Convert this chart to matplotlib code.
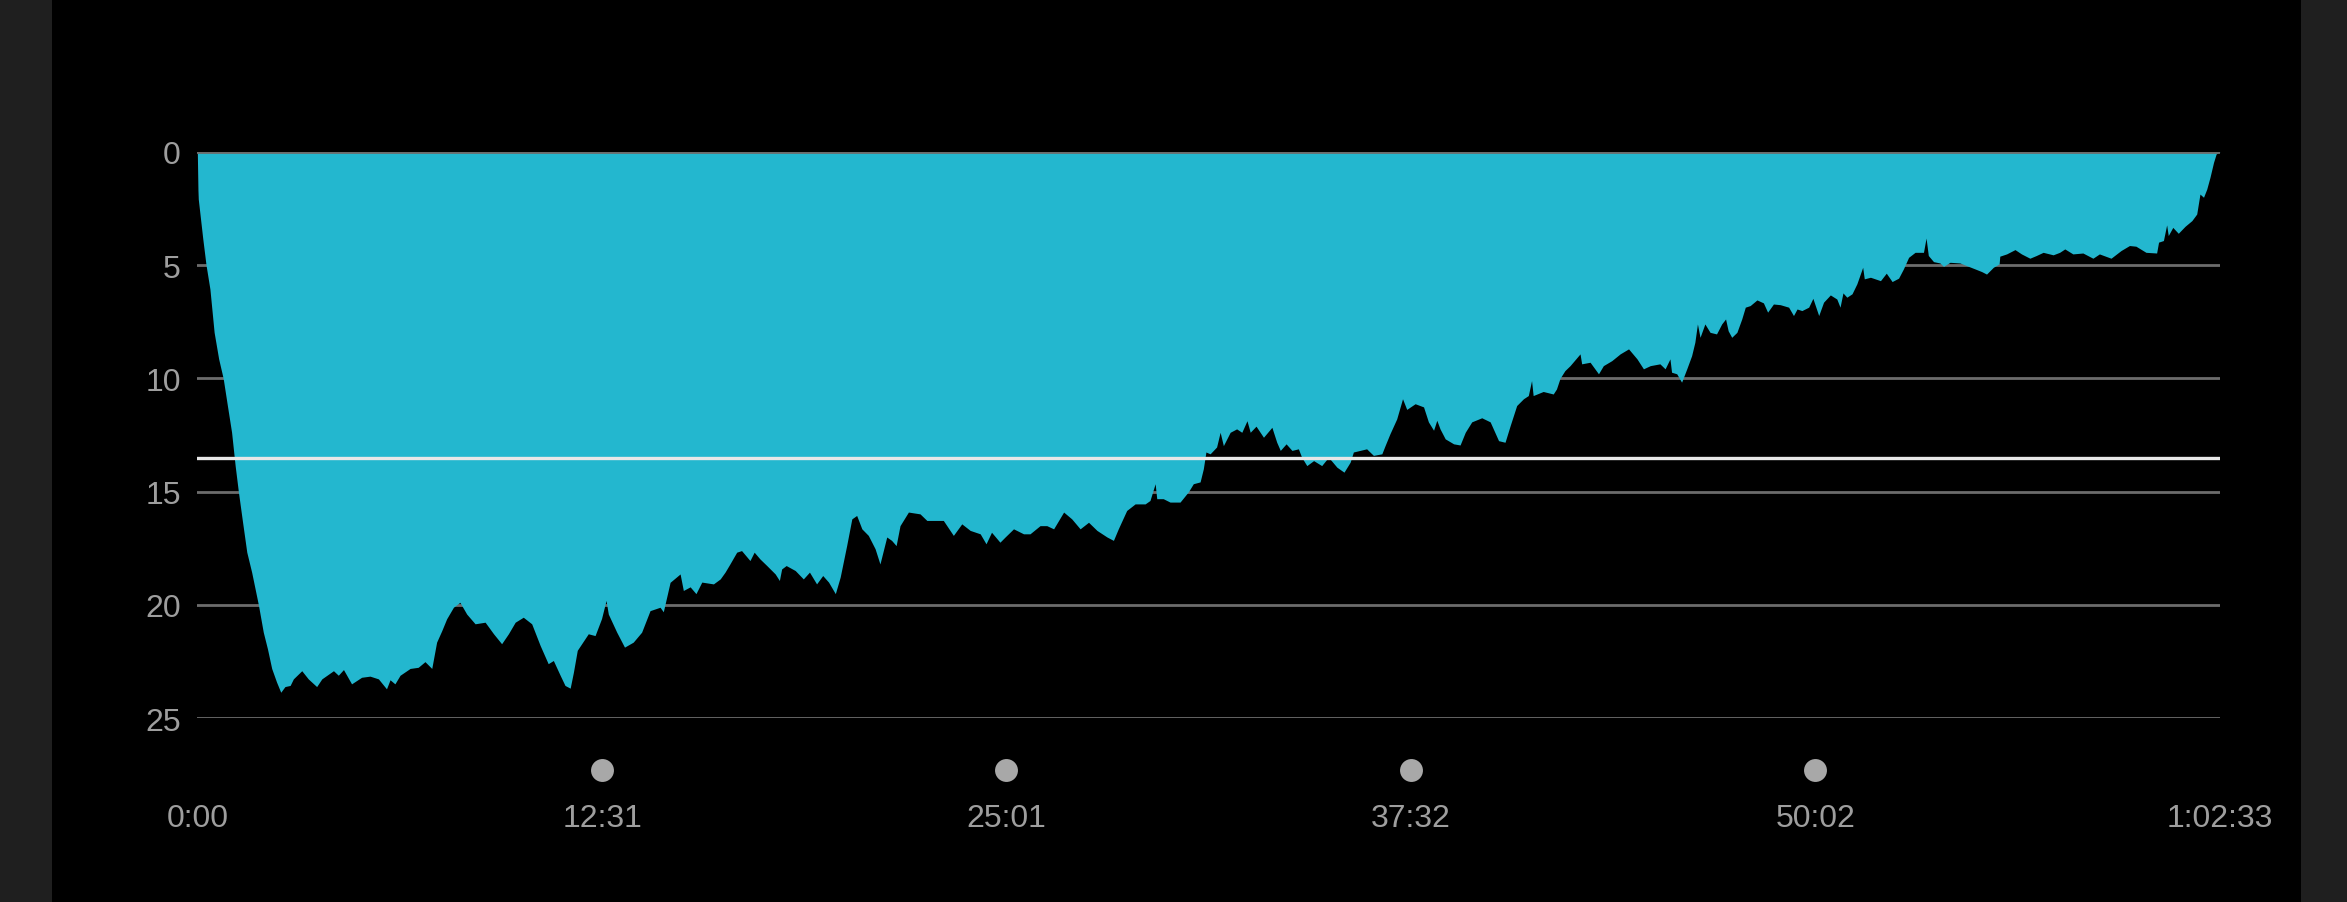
import matplotlib
matplotlib.use("Agg")
import matplotlib.pyplot as plt
from matplotlib.patches import Rectangle

# dive profile, time in minutes, depth in metres
time_min = [
    0.00, 0.02, 0.03, 0.17, 0.27, 0.39, 0.52, 0.66, 0.80, 0.93, 1.06, 1.17, 1.27, 1.40, 1.53, 1.68,
    1.89, 2.04, 2.17, 2.30, 2.45, 2.58, 2.71, 2.87, 2.97, 3.23, 3.43, 3.69, 3.85, 4.21, 4.36, 4.52,
    4.77, 5.08, 5.34, 5.60, 5.85, 5.96, 6.11, 6.27, 6.58, 6.83, 7.04, 7.25, 7.40, 7.56, 7.71, 7.92,
    8.12, 8.33, 8.59, 8.90, 9.16, 9.41, 9.62, 9.83, 10.08, 10.34, 10.60, 10.85, 11.01, 11.22, 11.37,
    11.53, 11.63, 11.75, 12.09, 12.30, 12.50, 12.64, 12.71, 12.97, 13.21, 13.48, 13.74, 14.00, 14.31,
    14.41, 14.62, 14.93,
    15.03, 15.24, 15.42, 15.60, 15.96, 16.17, 16.32, 16.47, 16.68, 16.83, 17.09, 17.22, 17.40, 17.61,
    17.87, 18.00, 18.07, 18.21, 18.49, 18.74, 18.93, 19.15, 19.34, 19.52, 19.73, 19.88, 20.08, 20.24,
    20.39, 20.55, 20.75, 20.96, 21.11, 21.32, 21.47, 21.61, 21.73, 21.99, 22.35, 22.56, 23.07, 23.38,
    23.64, 23.90, 24.21, 24.39, 24.56, 24.82, 24.98, 25.24, 25.55, 25.75, 26.06, 26.27, 26.48, 26.79,
    27.04, 27.30, 27.56, 27.82, 28.13, 28.33, 28.48, 28.74, 29.00, 29.31, 29.46, 29.62, 29.67, 29.87,
    30.08, 30.39, 30.65, 30.80, 31.01, 31.11, 31.19, 31.32, 31.52, 31.63, 31.73, 31.94, 32.14, 32.30,
    32.46, 32.56, 32.74, 32.97, 33.23, 33.38, 33.49, 33.67, 33.85, 34.05, 34.15, 34.31, 34.52, 34.77,
    34.98, 35.24, 35.46, 35.65, 35.75, 36.16, 36.37, 36.63, 36.73, 36.88, 37.09, 37.27, 37.40, 37.66,
    37.92, 38.07, 38.23, 38.33, 38.43, 38.59, 38.85, 39.05, 39.21, 39.41, 39.72, 39.98, 40.24, 40.44,
    40.60, 40.80, 41.01, 41.16, 41.26, 41.31, 41.62, 41.93, 42.03, 42.14, 42.29, 42.45, 42.76, 42.81,
    43.07, 43.33, 43.48, 43.74, 44.00, 44.26, 44.52, 44.72, 44.93,
    45.23, 45.39, 45.54, 45.59, 45.75, 45.90, 46.06, 46.21, 46.31, 46.39, 46.47, 46.62, 46.78, 46.98,
    47.14, 47.26, 47.34, 47.45, 47.61, 47.76, 47.87, 48.02, 48.23, 48.43, 48.56, 48.74, 48.95, 49.21,
    49.36, 49.47, 49.62, 49.83, 49.96, 50.14, 50.29, 50.50, 50.70, 50.80, 50.89, 51.01, 51.17, 51.32,
    51.50, 51.55, 51.74, 52.05, 52.23, 52.41, 52.61, 52.76, 52.92, 53.12, 53.38, 53.46, 53.53, 53.69,
    53.89, 54.00, 54.20, 54.51, 54.72, 54.97, 55.18, 55.33, 55.54, 55.72, 55.74, 55.95, 56.21, 56.41,
    56.67, 56.87, 57.08, 57.39, 57.59, 57.75, 58.00, 58.31, 58.62, 58.82, 59.18, 59.49, 59.75, 59.95,
    60.26,
    60.59, 60.65, 60.80, 60.90, 60.95, 61.09, 61.26, 61.47, 61.68, 61.83, 61.93, 62.04, 62.14, 62.24,
    62.35, 62.43, 62.55,
]
depth_m = [
    0.00, 1.70, 2.09, 3.85, 5.00, 6.06, 7.97, 9.14, 10.00, 11.20, 12.38, 13.85, 15.00, 16.35, 17.67, 18.55,
    20.00, 21.20, 21.94, 22.80, 23.40, 23.85, 23.60, 23.55, 23.26, 22.90, 23.26, 23.60, 23.26, 22.90, 23.10, 22.85,
    23.48, 23.19, 23.14, 23.26, 23.70, 23.30, 23.48, 23.10, 22.80, 22.75, 22.50, 22.80, 21.64, 21.13, 20.61, 20.10,
    19.88, 20.40, 20.83, 20.76, 21.27, 21.71, 21.27, 20.76, 20.54, 20.83, 21.78, 22.59, 22.45, 23.10, 23.55,
    23.67, 22.97, 22.00, 21.27, 21.35, 20.60, 19.80, 20.40, 21.20, 21.86, 21.64, 21.20, 20.25, 20.10,
    20.30, 19.00, 18.63,
    19.36, 19.20, 19.50, 18.99, 19.07, 18.85, 18.55, 18.19, 17.67, 17.60, 18.04, 17.67, 17.97, 18.26,
    18.63, 18.92, 18.41, 18.26, 18.48, 18.85, 18.55, 19.07, 18.70, 18.99, 19.50, 18.77, 17.38, 16.20,
    16.05, 16.64, 16.93, 17.52, 18.19, 17.00, 17.15, 17.38, 16.50, 15.90, 15.98, 16.27, 16.27, 16.93,
    16.42, 16.71, 16.86, 17.30, 16.79, 17.23, 17.00, 16.64, 16.86, 16.86, 16.50, 16.50, 16.64, 15.90,
    16.20, 16.64, 16.35, 16.71, 17.00, 17.15, 16.64, 15.83, 15.54, 15.54, 15.39, 14.65, 15.31, 15.31,
    15.46, 15.46, 15.00, 14.65, 14.57, 13.99, 13.25, 13.33, 13.03, 12.38, 12.97, 12.38, 12.23, 12.38,
    11.87, 12.38, 12.11, 12.60, 12.16, 12.82, 13.18, 12.89, 13.18, 13.11, 13.48, 13.85, 13.63, 13.85,
    13.48, 13.92, 14.14, 13.70, 13.25, 13.11, 13.40, 13.33, 12.97, 12.45, 11.79, 10.90, 11.37, 11.12,
    11.26, 11.92, 12.29, 11.85, 12.23, 12.67, 12.89, 12.94, 12.38, 11.92, 11.74, 11.92, 12.75, 12.82,
    12.08, 11.20, 10.90, 10.76, 10.10, 10.76, 10.58, 10.69, 10.47, 10.00, 9.66, 9.44, 8.92, 9.36,
    9.29, 9.80, 9.44, 9.22, 8.92, 8.70, 9.14, 9.58, 9.44,
    9.36, 9.58, 9.14, 9.73, 9.80, 10.17, 9.58, 9.00, 8.41, 7.60, 8.19, 7.60, 7.97, 8.04,
    7.60, 7.38, 7.90, 8.19, 7.97, 7.38, 6.86, 6.79, 6.54, 6.67, 7.08, 6.72, 6.75, 6.86,
    7.23, 6.94, 7.01, 6.86, 6.47, 7.23, 6.64, 6.32, 6.50, 6.86, 6.23, 6.42, 6.27, 5.83,
    5.10, 5.61, 5.54, 5.69, 5.36, 5.73, 5.58, 5.17, 4.66, 4.44, 4.44, 3.81, 4.58, 4.85,
    4.91, 5.06, 4.88, 4.91, 5.03, 5.17, 5.29, 5.40, 5.10, 4.95, 4.61, 4.51, 4.32, 4.51,
    4.70, 4.58, 4.44, 4.55, 4.44, 4.29, 4.51, 4.47, 4.70, 4.51, 4.70, 4.36, 4.14, 4.17,
    4.44,
    4.47, 3.99, 3.92, 3.23, 3.70, 3.34, 3.60, 3.29, 3.04, 2.75, 1.87, 2.01, 1.65, 1.13,
    0.47, 0.10, 0.00,
]

avg_depth = 13.5
depth_ticks = [0, 5, 10, 15, 20, 25]
time_ticks = [0, 12.517, 25.017, 37.533, 50.033, 62.55]
time_labels = ["0:00", "12:31", "25:01", "37:32", "50:02", "1:02:33"]
marker_times = time_ticks[1:-1]

cyan = "#23b7cf"
grid_gray = "#6c6c6c"
label_gray = "#9e9e9e"

fig = plt.figure(figsize=(23.47, 9.03), dpi=100, facecolor="#1f1f1f")
# black panel between the grey side strips
fig.patches.append(Rectangle((0.0222, 0), 0.9583, 1, transform=fig.transFigure,
                             facecolor="black", edgecolor="none", zorder=-10))

ax = fig.add_axes([0.08407, 0.20343, 0.86182, 0.62747])
ax.patch.set_alpha(0)
for s in ax.spines.values():
    s.set_visible(False)

for d in depth_ticks[1:]:
    ax.axhline(d, color=grid_gray, lw=2.0, zorder=1)
ax.fill_between(time_min, 0, depth_m, color=cyan, lw=0, zorder=2)
ax.axhline(0, color=grid_gray, lw=2.0, zorder=3)
ax.axhline(avg_depth, color="#e8e8e8", lw=2.4, zorder=4)

ax.set_xlim(0, time_ticks[-1])
ax.set_ylim(25, 0)

ax.set_yticks(depth_ticks)
ax.set_yticklabels([str(d) for d in depth_ticks])
ax.tick_params(axis="y", length=0, pad=12, labelsize=23, labelcolor=label_gray)
for lab in ax.get_yticklabels():
    lab.set_family(["Liberation Sans", "DejaVu Sans"])
ax.set_xticks([])

tr = ax.get_xaxis_transform()
ax.plot(marker_times, [-0.091] * len(marker_times), "o", ms=16.5, color="#a8a8a8",
        mec="none", transform=tr, clip_on=False)
for t, lab in zip(time_ticks, time_labels):
    ax.text(t, -0.176, lab, transform=tr, ha="center", va="center", fontsize=23,
            color=label_gray, family=["Liberation Sans", "DejaVu Sans"])

fig.savefig("out.png", dpi=100, facecolor=fig.get_facecolor())
